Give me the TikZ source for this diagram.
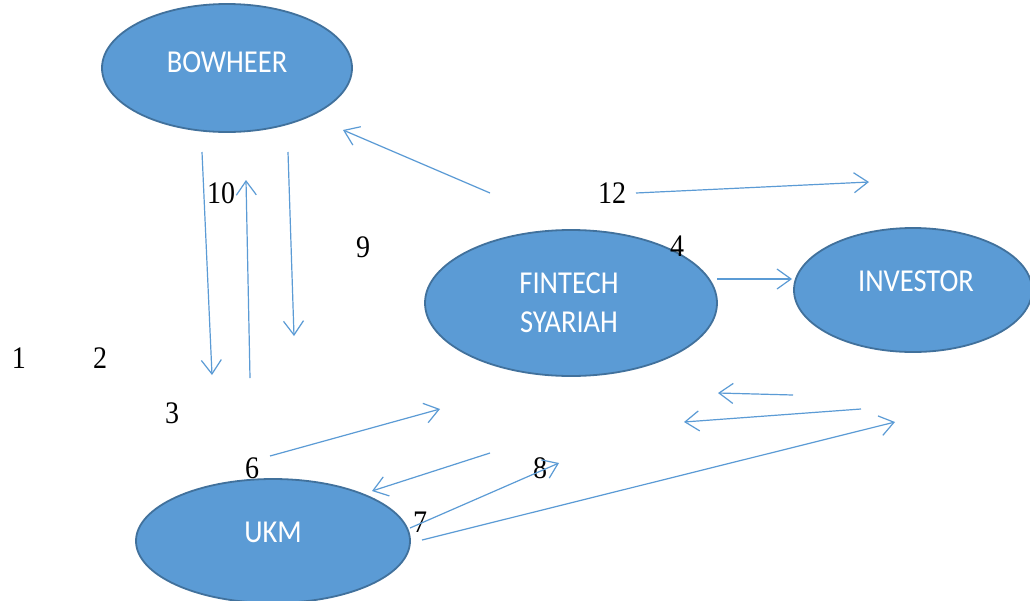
\documentclass[tikz,border=0pt]{standalone}
\usepackage{fontspec}
\setmainfont{Liberation Serif}
\newfontfamily\calib{Carlito}
\usetikzlibrary{shapes.geometric,arrows.meta}
\definecolor{fillblue}{HTML}{5B9BD5}
\definecolor{edgeblue}{HTML}{41719C}
\tikzset{
  actor/.style={ellipse, draw=edgeblue, line width=1.8pt, fill=fillblue, inner sep=0pt},
  actortext/.style={text=white, font=\calib\fontsize{28.5}{39}\selectfont, align=center, inner sep=0pt},
  flow/.style={draw=fillblue, line width=1.2pt, -{Straight Barb[length=14pt,width=20pt,line width=1.2pt]}},
  num/.style={font=\fontsize{28}{28}\selectfont, inner sep=0pt, text=black}
}
\newcommand{\tall}[1]{\scalebox{1}[1.12]{#1}}
\begin{document}
\begin{tikzpicture}[x=1pt,y=-1pt]
\useasboundingbox (0,0) rectangle (1030,600);
\clip (0,0) rectangle (1030,600);
\fill[white] (0,0) rectangle (1030,600);
% actors
\node[actor, minimum width=250pt, minimum height=128pt] (bow) at (227,68) {};
\node[actor, minimum width=292pt, minimum height=146pt] (fin) at (571,303) {};
\node[actor, minimum width=238pt, minimum height=124pt] (inv) at (913,290) {};
\node[actor, minimum width=274pt, minimum height=124pt] (ukm) at (273,541) {};
\node[actortext] (bowt) at ([yshift=6pt]bow.center) {\tall{BOWHEER}};
\node[actortext] (fint) at ([xshift=-2pt]fin.center) {\tall{FINTECH}\\\tall{SYARIAH}};
\node[actortext] (invt) at ([yshift=9pt,xshift=3pt]inv.center) {\tall{INVESTOR}};
\node[actortext] (ukmt) at ([yshift=9pt]ukm.center) {\tall{UKM}};
% numbers
\node[num] (n1) at (19,358) {\tall{1}};
\node[num] (n2) at (100,358) {\tall{2}};
\node[num] (n3) at (172,413) {\tall{3}};
\node[num] (n4) at (677,246) {\tall{4}};
\node[num] (n6) at (252,468) {\tall{6}};
\node[num] (n7) at (420,522) {\tall{7}};
\node[num] (n8) at (540,468) {\tall{8}};
\node[num] (n9) at (363,247) {\tall{9}};
\node[num] (n10) at (221,193) {\tall{10}};
\node[num] (n12) at (612,193) {\tall{12}};
% connector end points
\coordinate (a1s) at (202,152); \coordinate (a1e) at (212,375);
\coordinate (a2s) at (250,378); \coordinate (a2e) at (246,180);
\coordinate (a3s) at (288,152); \coordinate (a3e) at (294,336);
\coordinate (a4s) at (490,193); \coordinate (a4e) at (343,130);
\coordinate (a5s) at (636,193); \coordinate (a5e) at (869,182);
\coordinate (a6s) at (717,279); \coordinate (a6e) at (792,279);
\coordinate (a7s) at (793,395); \coordinate (a7e) at (718,393);
\coordinate (a8s) at (861,409); \coordinate (a8e) at (684,422);
\coordinate (a9s) at (270,456); \coordinate (a9e) at (440,409);
\coordinate (a10s) at (490,453); \coordinate (a10e) at (372,491);
\coordinate (a11s) at (410,528); \coordinate (a11e) at (559,463);
\coordinate (a12s) at (422,540); \coordinate (a12e) at (895,422);
% connectors
\draw[flow] (a1s) -- (a1e);
\draw[flow] (a2s) -- (a2e);
\draw[flow] (a3s) -- (a3e);
\draw[flow] (a4s) -- (a4e);
\draw[flow] (a5s) -- (a5e);
\draw[flow] (a6s) -- (a6e);
\draw[flow] (a7s) -- (a7e);
\draw[flow] (a8s) -- (a8e);
\draw[flow] (a9s) -- (a9e);
\draw[flow] (a10s) -- (a10e);
\draw[flow] (a11s) -- (a11e);
\draw[flow] (a12s) -- (a12e);
\end{tikzpicture}
\end{document}
